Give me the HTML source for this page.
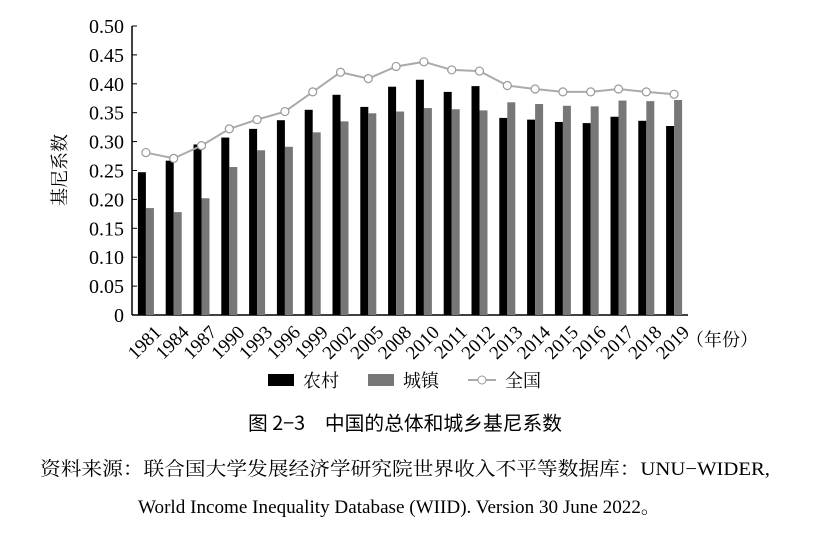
<!DOCTYPE html>
<html><head><meta charset="utf-8"><style>
body{margin:0;background:#fff;width:822px;height:550px;overflow:hidden;font-family:"Liberation Serif","Noto Serif CJK SC",serif}
svg{position:absolute;left:0;top:0}
</style></head><body>
<svg width="822" height="550" id="chart">
<text x="66" y="170" transform="rotate(-90 66 170)" text-anchor="middle" font-size="18" font-family="Noto Serif CJK SC, serif">基尼系数</text>
<text x="686" y="346" font-size="18" font-family="Noto Serif CJK SC, serif">（年份）</text>
<g>
<rect x="268" y="374" width="26" height="12" fill="#000"/>
<text x="303" y="387" font-size="18" font-family="Noto Serif CJK SC, serif">农村</text>
<rect x="368" y="374" width="26" height="12" fill="#777"/>
<text x="403" y="387" font-size="18" font-family="Noto Serif CJK SC, serif">城镇</text>
<line x1="468" y1="380" x2="496" y2="380" stroke="#aaa" stroke-width="2"/>
<circle cx="482" cy="380" r="4" fill="#fff" stroke="#999"/>
<text x="505" y="387" font-size="18" font-family="Noto Serif CJK SC, serif">全国</text>
</g>
<text x="248" y="430" textLength="314" lengthAdjust="spacingAndGlyphs" font-size="19.5" font-family="Noto Sans CJK SC, sans-serif">图 2−3　中国的总体和城乡基尼系数</text>
<text x="40" y="475" textLength="730" lengthAdjust="spacingAndGlyphs" font-size="19" font-family="Liberation Serif, Noto Serif CJK SC, serif">资料来源：联合国大学发展经济学研究院世界收入不平等数据库：UNU−WIDER,</text>
<text x="138" y="513" textLength="522" lengthAdjust="spacingAndGlyphs" font-size="19" font-family="Liberation Serif, Noto Serif CJK SC, serif">World Income Inequality Database (WIID). Version 30 June 2022。</text>
</svg>
<script>
const years=["1981","1984","1987","1990","1993","1996","1999","2002","2005","2008","2010","2011","2012","2013","2014","2015","2016","2017","2018","2019"];
const rural=[0.247,0.267,0.295,0.307,0.322,0.337,0.355,0.381,0.360,0.395,0.407,0.386,0.396,0.341,0.338,0.334,0.332,0.343,0.336,0.327];
const urban=[0.185,0.178,0.202,0.256,0.285,0.291,0.316,0.335,0.349,0.352,0.358,0.356,0.354,0.368,0.365,0.362,0.361,0.371,0.370,0.372];
const national=[0.281,0.271,0.293,0.322,0.338,0.352,0.386,0.420,0.409,0.430,0.438,0.424,0.422,0.397,0.391,0.386,0.386,0.391,0.386,0.382];
const yTicks=["0","0.05","0.10","0.15","0.20","0.25","0.30","0.35","0.40","0.45","0.50"];
const NS="http://www.w3.org/2000/svg";
const svg=document.getElementById('chart');
const x0=132,x1=688,y0=315,yTop=26,yMax=0.5;
const step=(x1-x0)/years.length;
function xc(i){return x0+step*(i+0.5);}
function yv(v){return y0-(y0-yTop)*v/yMax;}
function mk(t,a){const e=document.createElementNS(NS,t);for(const k in a)e.setAttribute(k,a[k]);svg.appendChild(e);return e;}
let e;
e=mk('line',{x1:x0,y1:yTop,x2:x0,y2:y0,stroke:'#000','stroke-width':1.5});


e=mk('line',{x1:x0,y1:y0,x2:x1,y2:y0,stroke:'#000','stroke-width':1.5});


yTicks.forEach(t=>{const v=parseFloat(t),y=yv(v);
 e=mk('line',{x1:x0,y1:y,x2:x0+5,y2:y,stroke:'#000'});
 
 
 e=mk('text',{x:124,y:y+7,'text-anchor':'end','font-size':20});e.textContent=t;
 
 
});
years.forEach((yr,i)=>{const c=xc(i);
 e=mk('rect',{x:c-8,y:yv(rural[i]),width:8,height:y0-yv(rural[i]),fill:'#000'});
 
 
 e=mk('rect',{x:c,y:yv(urban[i]),width:8,height:y0-yv(urban[i]),fill:'#777'});
 
 
 const tx=c+7,ty=y0+9;
 e=mk('text',{x:tx,y:ty,'text-anchor':'end','font-size':19,transform:`rotate(-45 ${tx} ${ty})`,dy:'0.7em'});e.textContent=yr;
 
 
});
e=mk('polyline',{points:national.map((v,i)=>xc(i)+','+yv(v)).join(' '),fill:'none',stroke:'#aaa','stroke-width':2});


national.forEach((v,i)=>{
 e=mk('circle',{cx:xc(i),cy:yv(v),r:4,fill:'#fff',stroke:'#999','stroke-width':1.2});
 
 
});
</script>
</body></html>
